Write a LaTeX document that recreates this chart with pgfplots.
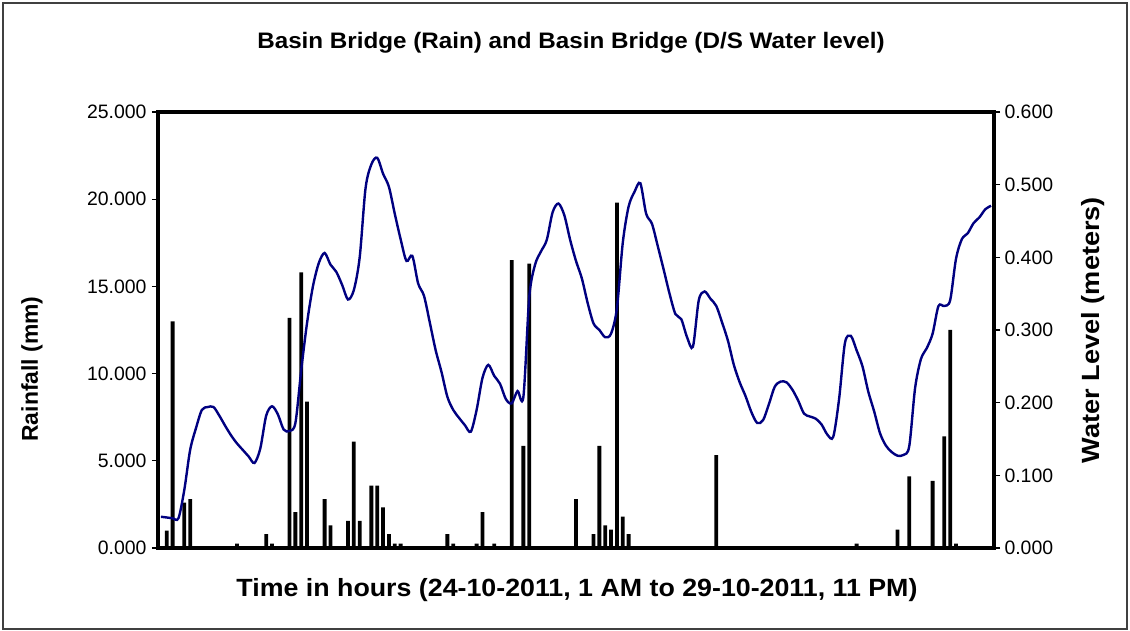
\documentclass[border=0pt]{standalone}
\usepackage{graphicx}
\usepackage{pgfplots}
\pgfplotsset{compat=1.18}
\usepackage{pgfplotstable}
\usepackage{fontspec}
\setmainfont{Liberation Sans}
\definecolor{navyline}{RGB}{0,0,128}

\pgfplotstableread{
h r
2 1.0
3 13.0
5 2.6
6 2.8
14 0.25
19 0.8
20 0.25
23 13.2
24 2.05
25 15.8
26 8.4
29 2.8
30 1.3
33 1.55
34 6.1
35 1.55
37 3.57
38 3.57
39 2.33
40 0.8
41 0.25
42 0.25
50 0.8
51 0.25
55 0.25
56 2.05
58 0.25
61 16.5
63 5.85
64 16.3
72 2.8
75 0.8
76 5.85
77 1.3
78 1.05
79 19.8
80 1.8
81 0.8
96 5.33
120 0.25
127 1.05
129 4.1
133 3.85
135 6.4
136 12.5
137 0.25
}\rain

\pgfplotstableread{
h w
1 0.043
2 0.042
3 0.041
4 0.041
5 0.080
6 0.135
7 0.165
8 0.190
9 0.194
10 0.194
11 0.182
12 0.168
13 0.155
14 0.144
15 0.135
16 0.126
17 0.117
18 0.137
19 0.182
20 0.195
21 0.184
22 0.163
23 0.161
24 0.172
25 0.245
26 0.310
27 0.360
28 0.392
29 0.406
30 0.390
31 0.380
32 0.362
33 0.342
34 0.355
35 0.400
36 0.495
37 0.528
38 0.537
39 0.515
40 0.497
41 0.460
42 0.425
43 0.395
44 0.402
45 0.364
46 0.347
47 0.310
48 0.272
49 0.242
50 0.208
51 0.190
52 0.179
53 0.169
54 0.160
55 0.190
56 0.234
57 0.252
58 0.237
59 0.226
60 0.205
61 0.199
62 0.216
63 0.208
64 0.345
65 0.390
66 0.408
67 0.424
68 0.462
69 0.474
70 0.458
71 0.424
72 0.395
73 0.371
74 0.337
75 0.309
76 0.300
77 0.290
78 0.295
79 0.330
80 0.420
81 0.470
82 0.490
83 0.502
84 0.460
85 0.446
86 0.415
87 0.383
88 0.350
89 0.322
90 0.315
91 0.290
92 0.277
93 0.341
94 0.353
95 0.343
96 0.333
97 0.310
98 0.285
99 0.252
100 0.228
101 0.209
102 0.187
103 0.172
104 0.176
105 0.198
106 0.222
107 0.229
108 0.228
109 0.218
110 0.203
111 0.185
112 0.181
113 0.178
114 0.170
115 0.156
116 0.153
117 0.205
118 0.282
119 0.292
120 0.272
121 0.250
122 0.215
123 0.188
124 0.158
125 0.141
126 0.132
127 0.127
128 0.128
129 0.140
130 0.220
131 0.260
132 0.275
133 0.295
134 0.333
135 0.333
136 0.341
137 0.398
138 0.425
139 0.433
140 0.447
141 0.455
142 0.466
143 0.471
}\level

\begin{document}
\begin{tikzpicture}
\useasboundingbox (-158bp,-83bp) rectangle (972bp,548bp);
\draw[line width=1.2bp, black!75] (-155bp,-81bp) rectangle (969bp,545bp);
\begin{axis}[
  at={(0,0)}, anchor=south west,
  scale only axis, width=836bp, height=436bp,
  xmin=0.5, xmax=143.5, ymin=0, ymax=25,
  xtick=\empty,
  ytick={0,5,10,15,20,25},
  ytick pos=left,
  tick align=outside,
  major tick length=6bp,
  every tick/.style={black, line width=1.2bp},
  axis line style={line width=3.5bp, black},
  /pgf/number format/assume math mode=true,
  yticklabel style={font=\fontsize{19.5}{21}\selectfont, xshift=-2bp,
    /pgf/number format/.cd, fixed, fixed zerofill, precision=3},
  clip=true,
]
\addplot[ybar, bar width=0.65, fill=black, draw=none] table[x=h, y=r] {\rain};
\end{axis}
\begin{axis}[
  at={(0,0)}, anchor=south west,
  scale only axis, width=836bp, height=436bp,
  xmin=0.5, xmax=143.5, ymin=0, ymax=0.6,
  axis x line=none,
  axis y line*=right,
  ytick={0,0.1,0.2,0.3,0.4,0.5,0.6},
  tick align=outside,
  major tick length=6bp,
  every tick/.style={black, line width=1.2bp},
  axis line style={line width=3.5bp, black},
  /pgf/number format/assume math mode=true,
  yticklabel style={font=\fontsize{19.5}{21}\selectfont, xshift=1bp,
    /pgf/number format/.cd, fixed, fixed zerofill, precision=3},
]
\addplot[navyline, line width=2.4bp, smooth, no markers] table[x=h, y=w] {\level};
\end{axis}
\node[font=\bfseries\fontsize{22.5}{25}\selectfont] at (413bp,505bp) {\scalebox{1.08}[1]{Basin Bridge (Rain) and Basin Bridge (D/S Water level)}};
\node[font=\bfseries\fontsize{23}{25}\selectfont, rotate=90] at (-126bp,179bp) {Rainfall (mm)};
\node[font=\bfseries\fontsize{25}{27}\selectfont, rotate=90] at (935bp,218bp) {\scalebox{1.09}[1]{Water Level (meters)}};
\node[font=\bfseries\fontsize{25}{27}\selectfont] at (419bp,-42bp) {\scalebox{1.075}[1]{Time in hours (24-10-2011, 1 AM to 29-10-2011, 11 PM)}};
\end{tikzpicture}
\end{document}
